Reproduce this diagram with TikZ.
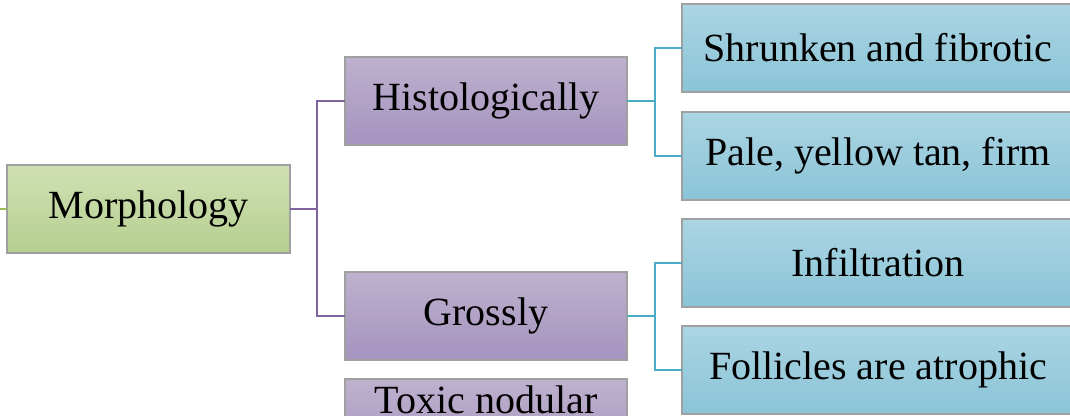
\documentclass[tikz,border=0pt]{standalone}
\usepackage{fontspec}
\setmainfont{Liberation Serif}
\definecolor{grnTop}{HTML}{D0E0B3}
\definecolor{grnBot}{HTML}{B5CF90}
\definecolor{purTop}{HTML}{BEB1CE}
\definecolor{purBot}{HTML}{A493BE}
\definecolor{bluTop}{HTML}{ABD5E3}
\definecolor{bluBot}{HTML}{8AC4D7}
\definecolor{purLine}{HTML}{8064A2}
\definecolor{bluLine}{HTML}{4BACC6}
\definecolor{grnLine}{HTML}{9BBB59}
\definecolor{edge}{HTML}{A0A0A0}
\tikzset{
  box/.style={draw=edge, line width=2pt, anchor=north west, minimum height=88pt,
    inner sep=0pt, outer sep=0pt, font=\fontsize{40}{44}\selectfont, text=black},
  greenbox/.style={box, top color=grnTop, bottom color=grnBot, minimum width=283pt},
  purplebox/.style={box, top color=purTop, bottom color=purBot, minimum width=282pt},
  bluebox/.style={box, top color=bluTop, bottom color=bluBot, minimum width=392pt},
  purline/.style={draw=purLine, line width=2.5pt},
  bluline/.style={draw=bluLine, line width=2.5pt},
  grnline/.style={draw=grnLine, line width=2.5pt},
}
\begin{document}
\begin{tikzpicture}[x=1pt,y=-1pt]
\useasboundingbox (0,0) rectangle (1070,415);
\fill[white] (0,0) rectangle (1070,415);
\coordinate (stub) at (0,209);
\node[greenbox] (morph) at (7,165) {Morphology};
\node[purplebox] (hist) at (345,57) {Histologically};
\node[purplebox] (gross) at (345,272) {Grossly};
\node[purplebox] (tox) at (345,379) {};
\node[anchor=base, font=\fontsize{40}{44}\selectfont] (toxtext) at (486,413) {Toxic nodular};
\node[bluebox] (shr) at (682,4) {Shrunken and fibrotic};
\node[bluebox] (pale) at (682,112) {Pale, yellow tan, firm};
\node[bluebox] (inf) at (682,219) {Infiltration};
\node[bluebox] (fol) at (682,326) {Follicles are atrophic};
\draw[grnline] (morph.west) -- (morph.west -| stub);
\draw[purline] (morph.east) -- ++(27,0) coordinate (pj);
\draw[purline] (hist.west) -| (pj) |- (gross.west);
\draw[bluline] (hist.east) -- ++(28,0) coordinate (hj);
\draw[bluline] (shr.west) -| (hj) |- (pale.west);
\draw[bluline] (gross.east) -- ++(28,0) coordinate (gj);
\draw[bluline] (inf.west) -| (gj) |- (fol.west);
\end{tikzpicture}
\end{document}
